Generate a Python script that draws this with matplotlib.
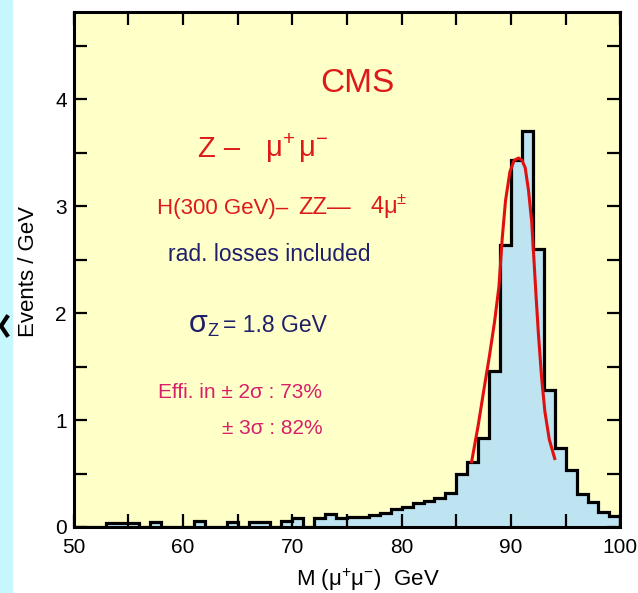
import numpy as np
import matplotlib.pyplot as plt
from matplotlib.ticker import MultipleLocator
from matplotlib.patches import Rectangle
from matplotlib.lines import Line2D

plt.rcParams['font.family'] = ['Liberation Sans', 'DejaVu Sans']
plt.rcParams['mathtext.fontset'] = 'custom'
plt.rcParams['mathtext.rm'] = 'Liberation Sans'
plt.rcParams['mathtext.it'] = 'Liberation Sans'
plt.rcParams['mathtext.default'] = 'regular'

# histogram: 1 GeV bins from 50 to 100 GeV, events / GeV
bin_edges = np.arange(50, 101, 1)
events = [0, 0, 0, 0.04, 0.04, 0.04, 0, 0.05, 0, 0,
          0, 0.06, 0, 0, 0.05, 0, 0.05, 0.05, 0, 0.06,
          0.08, 0, 0.08, 0.12, 0.08, 0.09, 0.09, 0.11, 0.13, 0.165,
          0.19, 0.22, 0.24, 0.27, 0.32, 0.50, 0.61, 0.83, 1.46, 2.64,
          3.43, 3.70, 2.60, 1.28, 0.74, 0.53, 0.31, 0.23, 0.14, 0.10]

# fitted curve
fit_m = [86.4, 87.0, 87.5, 88.0, 88.5, 88.9, 89.2, 89.5, 89.9, 90.3, 90.7,
         91.0, 91.3, 91.6, 91.9, 92.1, 92.3, 92.5, 92.8, 93.1, 93.5, 94.0]
fit_y = [0.61, 0.95, 1.27, 1.58, 1.92, 2.25, 2.70, 3.05, 3.32, 3.43, 3.45,
         3.43, 3.36, 3.15, 2.85, 2.50, 2.15, 1.82, 1.40, 1.08, 0.82, 0.64]

W, H = 638, 593
def fpos(x, y):
    # pixel position -> figure fraction
    return x / W, 1 - y / H

fig = plt.figure(figsize=(W / 100, H / 100), dpi=100)
fig.patches.append(Rectangle((0, 0), 12 / W, 1, transform=fig.transFigure,
                             color='#c6f7ff', zorder=0))
# bit of a cut-off glyph at the left edge of the slide
gx, gy = zip(fpos(7, 317), fpos(1, 326), fpos(7, 335))
fig.lines.append(Line2D(gx, gy, transform=fig.transFigure, color='black', lw=3))

ax = fig.add_axes([73.7 / W, 1 - 527 / H, (620.3 - 73.7) / W, (527 - 11.5) / H])
ax.set_facecolor('#ffffc8')

ax.stairs(events, bin_edges, fill=True, color='#bee4f1', zorder=1)
ax.stairs(events, bin_edges, color='black', lw=2.3, zorder=2)
ax.plot(fit_m, fit_y, color='#e01010', lw=2.2, zorder=3)

ax.set_xlim(50, 100)
ax.set_ylim(0, 4.82)
ax.xaxis.set_major_locator(MultipleLocator(10))
ax.xaxis.set_minor_locator(MultipleLocator(5))
ax.yaxis.set_major_locator(MultipleLocator(1))
ax.yaxis.set_minor_locator(MultipleLocator(0.5))
ax.tick_params(which='both', direction='in', top=True, right=True,
               length=9.5, width=1.6, labelsize=15)
ax.tick_params(axis='x', pad=8)
ax.tick_params(axis='y', pad=5)
for s in ax.spines.values():
    s.set_linewidth(2.2)

fig.text(*fpos(28, 272), 'Events / GeV', rotation=90, fontsize=16,
         ha='center', va='center')
fig.text(*fpos(368, 586), r'M ($\mu^{+}\mu^{-}$)  GeV', fontsize=16,
         ha='center', va='baseline')

red = '#dd1a1a'
navy = '#1f1f6b'
pink = '#d6206a'
fig.text(*fpos(357, 91.5), 'CMS', fontsize=24, color=red, ha='center', va='baseline')
fig.text(*fpos(198, 157), 'Z –', fontsize=21, color=red, va='baseline')
fig.text(*fpos(265, 157), r'$\mu^{+}\,\mu^{-}$', fontsize=21, color=red, va='baseline')
fig.text(*fpos(157, 214), 'H(300 GeV)–', fontsize=16, color=red, va='baseline')
fig.text(*fpos(298, 214), 'ZZ—', fontsize=17, color=red, va='baseline')
fig.text(*fpos(370, 214), r'4$\mu^{\pm}$', fontsize=17, color=red, va='baseline')
fig.text(*fpos(168, 261.5), 'rad. losses included', fontsize=16.5, color=navy, va='baseline')
fig.text(*fpos(189, 331.5), 'σ', fontsize=22, color=navy, va='baseline')
fig.text(*fpos(207, 336), 'Z', fontsize=13, color=navy, va='baseline')
fig.text(*fpos(223, 331.5), '= 1.8 GeV', fontsize=16.5, color=navy, va='baseline')
fig.text(*fpos(158, 398), 'Effi. in ± 2σ : 73%', fontsize=15, color=pink, va='baseline')
fig.text(*fpos(222, 434), '± 3σ : 82%', fontsize=15, color=pink, va='baseline')

fig.savefig('out.png', dpi=100)
